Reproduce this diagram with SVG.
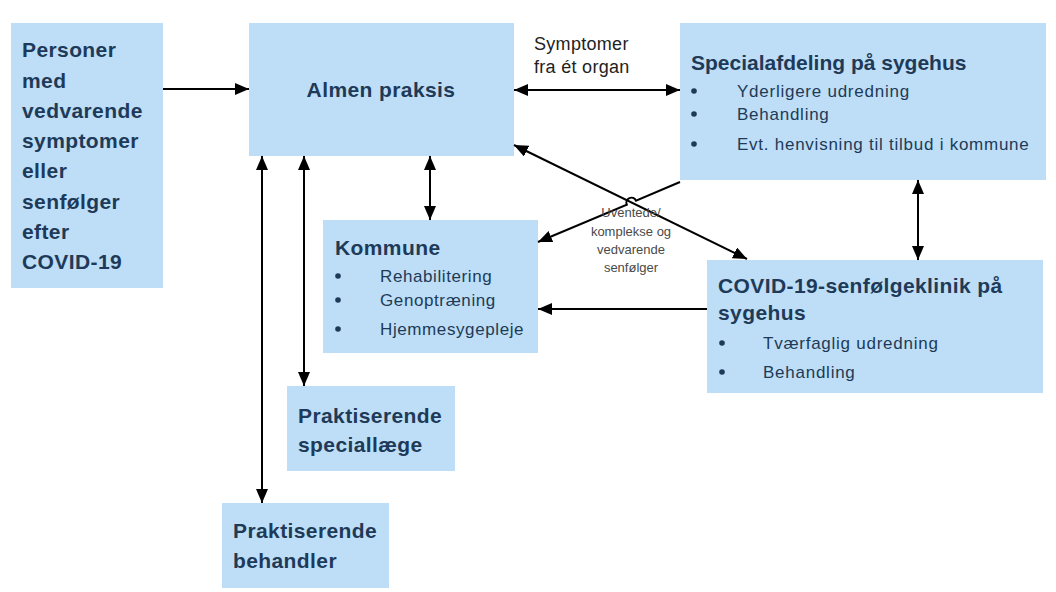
<svg xmlns="http://www.w3.org/2000/svg" width="1056" height="592" viewBox="0 0 1056 592">
<defs>
<marker id="ah" markerUnits="userSpaceOnUse" markerWidth="14" markerHeight="12" refX="14" refY="6" orient="auto-start-reverse">
<path d="M0,0 L14,6 L0,12 z" fill="#000"/>
</marker>
<style>
.box{fill:#BDDEF6}
.h{font-family:"Liberation Sans",Arial,sans-serif;font-weight:bold;font-size:21px;fill:#1E3A58;letter-spacing:0.4px}
.it{font-family:"Liberation Sans",Arial,sans-serif;font-size:17px;fill:#1E3A58;letter-spacing:0.75px}
.lbl{font-family:"Liberation Sans",Arial,sans-serif;font-size:18px;fill:#222;letter-spacing:0.3px}
.sm{font-family:"Liberation Sans",Arial,sans-serif;font-size:13px;fill:#4a4a4a;text-anchor:middle}
.bul{fill:#1E3A58}
.c{stroke:#000;stroke-width:2;fill:none}
</style>
</defs>
<rect width="1056" height="592" fill="#fff"/>

<g id="personer">
<rect class="box" x="11" y="23" width="152" height="265"/>
<text class="h" x="22" y="57">Personer</text>
<text class="h" x="22" y="88">med</text>
<text class="h" x="22" y="118">vedvarende</text>
<text class="h" x="22" y="148">symptomer</text>
<text class="h" x="22" y="178">eller</text>
<text class="h" x="22" y="209">senfølger</text>
<text class="h" x="22" y="239">efter</text>
<text class="h" x="22" y="269">COVID-19</text>
</g>

<g id="almen">
<rect class="box" x="249" y="23" width="265" height="133"/>
<text class="h" x="381" y="97" text-anchor="middle">Almen praksis</text>
</g>

<g id="specialafdeling">
<rect class="box" x="680" y="23" width="366" height="157"/>
<text class="h" x="691" y="70" style="letter-spacing:0">Specialafdeling på sygehus</text>
<circle class="bul" cx="694" cy="91" r="2.8"/>
<circle class="bul" cx="694" cy="114" r="2.8"/>
<circle class="bul" cx="694" cy="144" r="2.8"/>
<text class="it" x="737" y="97">Yderligere udredning</text>
<text class="it" x="737" y="120">Behandling</text>
<text class="it" x="737" y="150">Evt. henvisning til tilbud i kommune</text>
</g>

<g id="kommune">
<rect class="box" x="323" y="220" width="215" height="133"/>
<text class="h" x="335" y="255">Kommune</text>
<circle class="bul" cx="338" cy="276" r="2.8"/>
<circle class="bul" cx="338" cy="300" r="2.8"/>
<circle class="bul" cx="338" cy="329" r="2.8"/>
<text class="it" x="380" y="282" style="letter-spacing:0.6px">Rehabilitering</text>
<text class="it" x="380" y="306" style="letter-spacing:0.6px">Genoptræning</text>
<text class="it" x="380" y="335" style="letter-spacing:0.6px">Hjemmesygepleje</text>
</g>

<g id="covid">
<rect class="box" x="707" y="260" width="336" height="133"/>
<text class="h" x="718" y="293">COVID-19-senfølgeklinik på</text>
<text class="h" x="718" y="320">sygehus</text>
<circle class="bul" cx="722" cy="343" r="2.8"/>
<circle class="bul" cx="722" cy="372" r="2.8"/>
<text class="it" x="763" y="349">Tværfaglig udredning</text>
<text class="it" x="763" y="378">Behandling</text>
</g>

<g id="speciallaege">
<rect class="box" x="287" y="386" width="168" height="85"/>
<text class="h" x="298" y="423">Praktiserende</text>
<text class="h" x="298" y="452">speciallæge</text>
</g>

<g id="behandler">
<rect class="box" x="222" y="503" width="167" height="85"/>
<text class="h" x="233" y="538">Praktiserende</text>
<text class="h" x="233" y="568">behandler</text>
</g>

<g id="connectors">
<path class="c" d="M163,89 L249,89" marker-end="url(#ah)"/>
<path class="c" d="M514,90 L680,90" marker-start="url(#ah)" marker-end="url(#ah)"/>
<path class="c" d="M430,156 L430,220" marker-start="url(#ah)" marker-end="url(#ah)"/>
<path class="c" d="M262,156 L262,503" marker-start="url(#ah)" marker-end="url(#ah)"/>
<path class="c" d="M304,156 L304,386" marker-start="url(#ah)" marker-end="url(#ah)"/>
<path class="c" d="M918,180 L918,260" marker-start="url(#ah)" marker-end="url(#ah)"/>
<path class="c" d="M707,309 L538,309" marker-end="url(#ah)"/>
<path class="c" d="M514,145 L747,259" marker-start="url(#ah)" marker-end="url(#ah)"/>
<path class="c" d="M680,182 L636,200.7 A5,5 0 0 0 626.8,204.7 L538,242" marker-end="url(#ah)"/>
<text class="sm" x="631" y="217">Uventede/</text>
<text class="sm" x="631" y="236">komplekse og</text>
<text class="sm" x="631" y="254">vedvarende</text>
<text class="sm" x="631" y="272">senfølger</text>
<text class="lbl" x="534" y="50">Symptomer</text>
<text class="lbl" x="534" y="73">fra ét organ</text>
</g>
</svg>
